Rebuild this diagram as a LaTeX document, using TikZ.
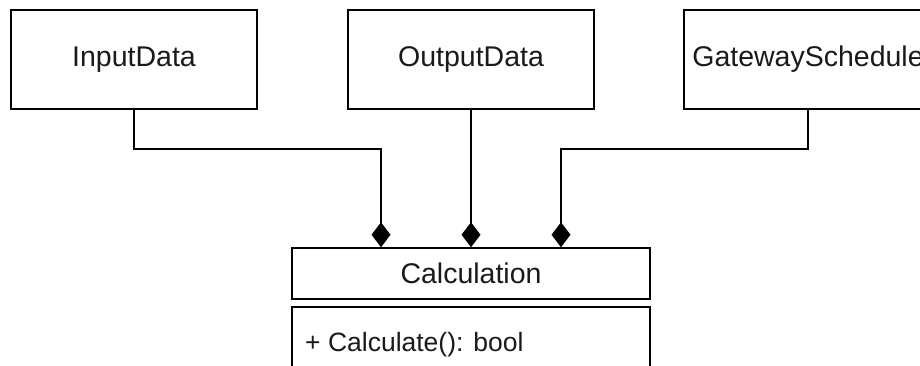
\documentclass[tikz,border=0pt]{standalone}
\usepackage{fontspec}
\setmainfont{Liberation Sans}
\usetikzlibrary{arrows.meta}
\definecolor{txt}{HTML}{1a1a1a}
\tikzset{
  classbox/.style={draw=black, line width=1.5pt, fill=white, minimum width=246pt, minimum height=99pt, inner sep=0pt, font=\fontsize{28.5}{33}\selectfont, text=txt},
  comp/.style={draw=black, line width=1.5pt, -{Diamond[length=25pt,width=19pt,fill=black]}},
  plain/.style={draw=black, line width=1.5pt}
}
\begin{document}
\begin{tikzpicture}[x=1pt,y=-1pt]
\clip (0,0) rectangle (920,365);
\fill[white] (0,0) rectangle (920,365);
\node[classbox] (in) at (134,59.5) {InputData};
\node[classbox] (out) at (471,59.5) {OutputData};
\node[classbox, minimum width=248pt] (gw) at (808,59.5) {GatewaySchedule};
\node[classbox, minimum width=358pt, minimum height=51pt] (calc) at (471,273.5) {Calculation};
\draw[plain] (292,307) rectangle (650,420);
\node[anchor=base west, inner sep=0pt, font=\fontsize{26.5}{31}\selectfont, text=txt] (op) at (305,351) {+ Calculate(): bool};
\coordinate (c1) at ([xshift=-90pt]calc.north);
\coordinate (c3) at ([xshift=90pt]calc.north);
\draw[comp] (in.south) -- ++(0,39) -| (c1);
\draw[comp] (out.south) -- (calc.north);
\draw[comp] (gw.south) -- ++(0,39) -| (c3);
\end{tikzpicture}
\end{document}
